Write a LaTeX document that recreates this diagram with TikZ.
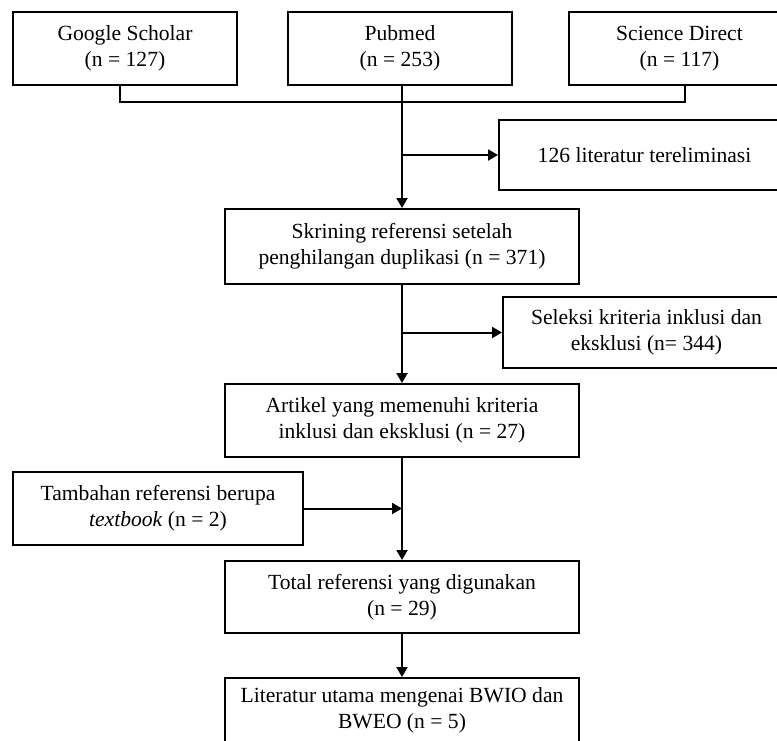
\documentclass[tikz,border=0pt]{standalone}
\usepackage{fontspec}
\setmainfont{Liberation Serif}
\usetikzlibrary{arrows.meta}
\begin{document}
\begin{tikzpicture}[x=1pt,y=-1pt,
  box/.style={draw, line width=2pt, align=center, inner sep=0pt,
    font=\fontsize{21.6}{26}\selectfont},
  conn/.style={line width=2pt},
  arr/.style={conn, -{Triangle[length=10pt,width=11pt]}}]
\useasboundingbox (0,0) rectangle (777,740);
\clip (0,0) rectangle (777,740);
\node[box, minimum width=224pt, minimum height=73pt] (gs) at (125,48.5) {Google Scholar\\(n = 127)};
\node[box, minimum width=224pt, minimum height=73pt] (pm) at (400,48.5) {Pubmed\\(n = 253)};
\node[box, minimum width=221pt, minimum height=73pt] (sd) at (679.5,48.5) {Science Direct\\(n = 117)};
\node[box, minimum width=291pt, minimum height=70pt] (elim) at (644.5,155) {126 literatur tereliminasi};
\node[box, minimum width=354pt, minimum height=75pt] (skr) at (402,246.5) {Skrining referensi setelah\\penghilangan duplikasi (n = 371)};
\node[box, minimum width=287pt, minimum height=71pt] (sel) at (646.5,332.5) {Seleksi kriteria inklusi dan\\eksklusi (n= 344)};
\node[box, minimum width=354pt, minimum height=73pt] (art) at (402,420.5) {Artikel yang memenuhi kriteria\\inklusi dan eksklusi (n = 27)};
\node[box, minimum width=290pt, minimum height=73pt] (tam) at (158,508.5) {Tambahan referensi berupa\\\textit{textbook} (n = 2)};
\node[box, minimum width=354pt, minimum height=72pt] (tot) at (402,597) {Total referensi yang digunakan\\(n = 29)};
\node[box, minimum width=354pt, minimum height=64pt] (lit) at (402,710) {Literatur utama mengenai BWIO dan\\BWEO (n = 5)};
\coordinate (j) at (402,102);
\draw[conn] ([xshift=-5pt]gs.south) |- (j) -| ([xshift=5pt]sd.south);
\draw[arr] (pm.south -| skr.north) -- (skr.north);
\draw[arr] (skr.north |- elim.west) -- (elim.west);
\draw[arr] (skr.south) -- (art.north);
\draw[arr] (skr.south |- sel.west) -- (sel.west);
\draw[arr] (art.south) -- (tot.north);
\draw[arr] (tam.east) -- (tam.east -| art.south);
\draw[arr] (tot.south) -- (lit.north);
\end{tikzpicture}
\end{document}
